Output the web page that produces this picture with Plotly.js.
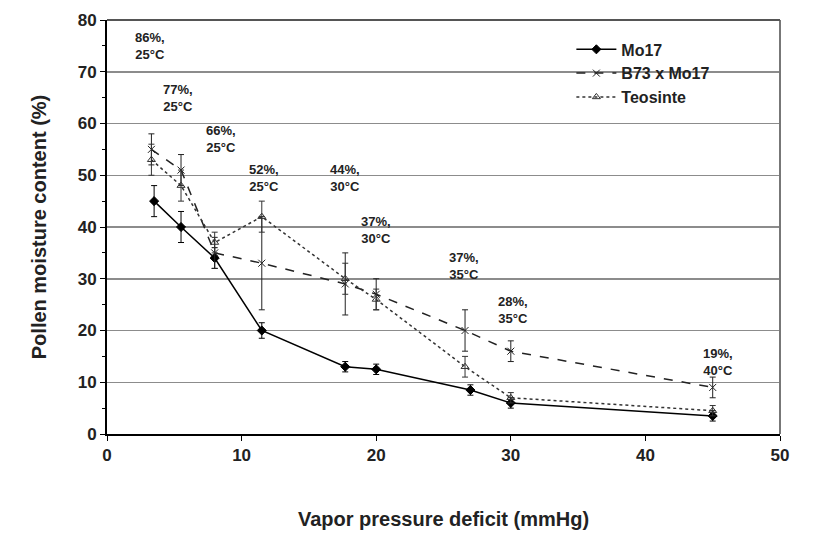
<!DOCTYPE html>
<html>
<head>
<meta charset="utf-8">
<script src="https://cdn.plot.ly/plotly-3.0.1.min.js"></script>
<style>html,body{margin:0;padding:0;background:#fff;}#chart{width:817px;height:539px;}</style>
</head>
<body>
<div id="chart"></div>
<script>
// Vapor pressure deficit (mmHg)
const vpd1 = [3.5, 5.5, 8, 11.5, 17.7, 20, 27, 30, 45];
const mc1  = [45, 40, 34, 20, 13, 12.5, 8.5, 6, 3.5];
const err1 = [3, 3, 2, 1.5, 1, 1, 1, 1, 1];

const vpd2 = [3.3, 5.5, 8, 11.5, 17.7, 20, 26.6, 30, 45];
const mc2  = [55, 51, 35, 33, 29, 27, 20, 16, 9];
const err2 = [3, 3, 3, 9, 6, 3, 4, 2, 2];

const vpd3 = [3.3, 5.5, 8, 11.5, 17.7, 20, 26.6, 30, 45];
const mc3  = [53, 48, 37, 42, 30, 26, 13, 7, 4.5];
const err3 = [3, 3, 2, 3, 3, 2, 2, 1, 1];

const seriesNames = ["Mo17", "B73 x Mo17", "Teosinte"];

// RH / temperature labels
const labX = [3.2, 5.3, 8.5, 11.7, 17.7, 20, 26.5, 30.2, 45.4];
const labY = [75, 65, 57, 49.5, 49.5, 39.5, 32.5, 24, 14];
const labT = ["86%,<br>25°C", "77%,<br>25°C", "66%,<br>25°C", "52%,<br>25°C", "44%,<br>30°C",
              "37%,<br>30°C", "37%,<br>35°C", "28%,<br>35°C", "19%,<br>40°C"];

const F = "Liberation Sans, Arial, sans-serif";

function tr(x, y, e, name, dash, sym, color) {
  return {
    x: x, y: y, name: name, type: "scatter", mode: "lines+markers",
    line: {color: color, width: 1.5, dash: dash},
    marker: {symbol: sym, size: 7, color: color, line: {color: color, width: 1}},
    error_y: {type: "data", array: e, visible: true, color: color, thickness: 1, width: 3}
  };
}

const data = [
  tr(vpd1, mc1, err1, seriesNames[0], "solid", "diamond", "#000"),
  tr(vpd2, mc2, err2, seriesNames[1], "dash", "x-thin-open", "#222"),
  tr(vpd3, mc3, err3, seriesNames[2], "dot", "triangle-up-open", "#333")
];

const annotations = labX.map((x, i) => ({
  x: x, y: labY[i], text: labT[i], showarrow: false,
  font: {family: F, size: 13, color: "#222", weight: "bold"}, align: "center"
}));

const layout = {
  width: 817, height: 539,
  margin: {l: 107, r: 37, t: 20, b: 105},
  paper_bgcolor: "#fff", plot_bgcolor: "#fff",
  showlegend: true,
  legend: {x: 0.69, y: 0.97, xanchor: "left", yanchor: "top",
           font: {family: F, size: 16, color: "#222", weight: "bold"}, bgcolor: "rgba(255,255,255,0)",
           tracegroupgap: 10, itemwidth: 40},
  xaxis: {
    range: [0, 50], dtick: 10, tick0: 0,
    showgrid: false, zeroline: false,
    showline: true, linecolor: "#000", linewidth: 2, mirror: false,
    ticks: "outside", ticklen: 5, tickcolor: "#000",
    tickfont: {family: F, size: 17, color: "#222", weight: "bold"},
    title: {text: "Vapor pressure deficit (mmHg)", font: {family: F, size: 20, color: "#222", weight: "bold"}, standoff: 48}
  },
  yaxis: {
    range: [0, 80], dtick: 10, tick0: 0,
    showgrid: true, gridcolor: "#8c8c8c", gridwidth: 1.5, zeroline: false,
    showline: true, linecolor: "#000", linewidth: 2, mirror: false,
    ticks: "outside", ticklen: 5, tickcolor: "#000",
    minor: {dtick: 5, ticks: "outside", ticklen: 3, tickcolor: "#000", showgrid: false},
    tickfont: {family: F, size: 17, color: "#222", weight: "bold"},
    title: {text: "Pollen moisture content (%)", font: {family: F, size: 20, color: "#222", weight: "bold"}, standoff: 26}
  },
  shapes: [
    {type: "line", xref: "paper", yref: "paper", x0: 1, x1: 1, y0: 0, y1: 1, line: {color: "#777", width: 2}},
    {type: "line", xref: "paper", yref: "paper", x0: 0, x1: 1, y0: 1, y1: 1, line: {color: "#555", width: 2}}
  ],
  annotations: annotations
};

Plotly.newPlot("chart", data, layout, {displayModeBar: false, staticPlot: true});
</script>
</body>
</html>
